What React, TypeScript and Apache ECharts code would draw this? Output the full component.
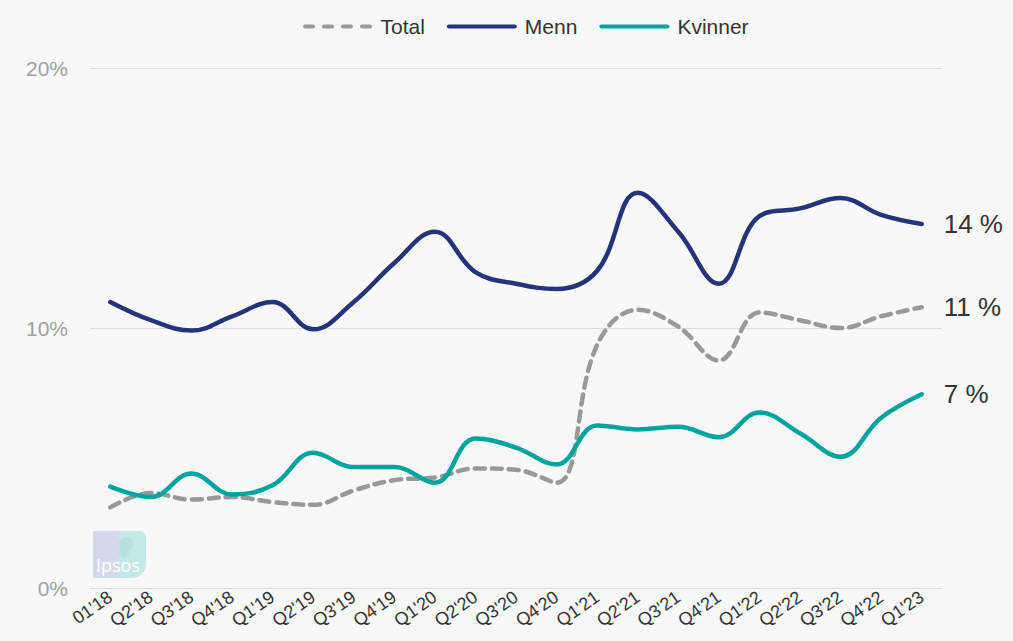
import React, { useEffect, useRef } from "react";
import * as echarts from "echarts";

// Quarter labels on the x axis
const quarters = [
  "01'18", "Q2'18", "Q3'18", "Q4'18", "Q1'19", "Q2'19", "Q3'19", "Q4'19",
  "Q1'20", "Q2'20", "Q3'20", "Q4'20", "Q1'21", "Q2'21", "Q3'21", "Q4'21",
  "Q1'22", "Q2'22", "Q3'22", "Q4'22", "Q1'23",
];

// Share in percent per quarter
const total = [
  3.1, 3.65, 3.4, 3.5, 3.3, 3.2, 3.75, 4.15, 4.25, 4.6, 4.55, 4.05,
  9.35, 10.7, 10.05, 8.75, 10.6, 10.3, 10.0, 10.45, 10.8,
];
const menn = [
  11.0, 10.3, 9.9, 10.45, 11.0, 9.95, 11.0, 12.5, 13.7, 12.15, 11.7, 11.5,
  12.2, 15.2, 13.7, 11.7, 14.3, 14.6, 15.0, 14.35, 14.0,
];
const kvinner = [
  3.9, 3.5, 4.4, 3.6, 3.95, 5.2, 4.65, 4.65, 4.05, 5.75, 5.4, 4.75,
  6.25, 6.1, 6.2, 5.8, 6.75, 5.95, 5.05, 6.55, 7.45,
];

const yTicks = [0, 10, 20];

const FONT = "'Liberation Sans', Arial, sans-serif";

// Legend swatches: a rounded bar, and four rounded dashes for the dashed series
const SOLID_ICON = "path://M2,0 H68 A2,2 0 0 1 68,4 H2 A2,2 0 0 1 2,0 Z";
const DASHED_ICON =
  "path://M2,0 H10 A2,2 0 0 1 10,4 H2 A2,2 0 0 1 2,0 Z " +
  "M21,0 H29 A2,2 0 0 1 29,4 H21 A2,2 0 0 1 21,0 Z " +
  "M40,0 H48 A2,2 0 0 1 48,4 H40 A2,2 0 0 1 40,0 Z " +
  "M59,0 H67 A2,2 0 0 1 67,4 H59 A2,2 0 0 1 59,0 Z";

function lineSeries(name: string, data: number[], color: string, dashed: boolean, z: number) {
  return {
    name,
    type: "line",
    data,
    smooth: 0.4,
    symbol: "none",
    z,
    lineStyle: {
      color,
      width: 4.5,
      type: dashed ? [10, 7] : "solid",
      cap: "round",
    },
    itemStyle: { color },
    endLabel: {
      show: true,
      formatter: (p: any) => `${Math.round(p.value)} %`,
      color: "#333333",
      fontSize: 26,
      fontFamily: FONT,
      distance: 22,
    },
  };
}

export default function App() {
  const ref = useRef<HTMLDivElement>(null);

  useEffect(() => {
    if (!ref.current) return;
    const chart = echarts.init(ref.current, undefined, { renderer: "svg" });
    chart.setOption({
      animation: false,
      backgroundColor: "#f8f8f8",
      textStyle: { fontFamily: FONT },
      legend: {
        top: 11,
        left: 298,
        itemWidth: 70,
        itemHeight: 4,
        itemGap: 22,
        textStyle: { color: "#333333", fontSize: 21, fontFamily: FONT, padding: [0, 0, 0, 3] },
        data: [
          { name: "Total", icon: DASHED_ICON },
          { name: "Menn", icon: SOLID_ICON },
          { name: "Kvinner", icon: SOLID_ICON },
        ],
      },
      grid: { left: 90, right: 71, top: 68, bottom: 53 },
      xAxis: {
        type: "category",
        data: quarters,
        boundaryGap: true,
        axisLine: { lineStyle: { color: "#d9d9d9", width: 1 } },
        axisTick: { show: false },
        axisLabel: {
          rotate: 35,
          color: "#333333",
          fontSize: 18,
          fontFamily: FONT,
          margin: 7,
          interval: 0,
        },
      },
      yAxis: {
        type: "value",
        min: yTicks[0],
        max: yTicks[yTicks.length - 1],
        interval: 10,
        axisLine: { show: false },
        axisTick: { show: false },
        splitLine: { lineStyle: { color: "#dcdcdc", width: 1 } },
        axisLabel: {
          formatter: (v: number) => `${v}%`,
          color: "#a0a0a0",
          fontSize: 21,
          fontFamily: FONT,
          margin: 22,
        },
      },
      graphic: [
        {
          type: "group",
          left: 93,
          top: 531,
          z: 0,
          children: [
            { type: "rect", shape: { x: 0, y: 0, width: 40, height: 47 }, style: { fill: "#d6d9e9" } },
            {
              type: "rect",
              shape: { x: 26, y: 0, width: 27, height: 47, r: [0, 6, 14, 0] },
              style: { fill: "#c4e8e6" },
            },
            { type: "circle", shape: { cx: 33, cy: 13, r: 7 }, style: { fill: "#b6e0de" } },
            { type: "ellipse", shape: { cx: 31, cy: 22, rx: 5, ry: 5 }, style: { fill: "#b6e0de" } },
            {
              type: "text",
              style: {
                text: "Ipsos",
                x: 3,
                y: 25,
                fill: "#ffffff",
                fontSize: 18,
                fontFamily: "'Open Sans', sans-serif",
              },
            },
          ],
        },
      ],
      series: [
        lineSeries("Total", total, "#999999", true, 3),
        lineSeries("Menn", menn, "#24337a", false, 4),
        lineSeries("Kvinner", kvinner, "#00a39d", false, 5),
      ],
    });
    return () => chart.dispose();
  }, []);

  return (
    <div
      ref={ref}
      style={{ position: "absolute", left: 0, top: 0, width: 1013, height: 641 }}
    />
  );
}
